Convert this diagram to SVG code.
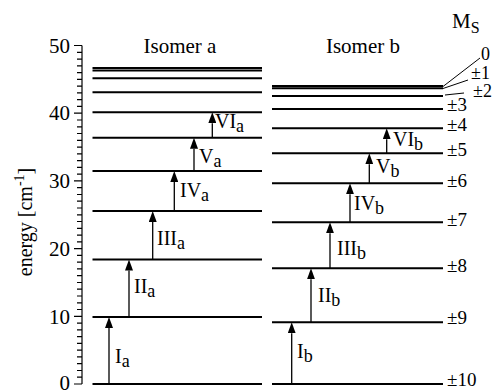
<svg xmlns="http://www.w3.org/2000/svg" width="499" height="392" viewBox="0 0 499 392" font-family="Liberation Serif, Times New Roman, serif">
<defs>
<marker id="ah" markerUnits="userSpaceOnUse" viewBox="0 0 11 8" refX="0" refY="4" markerWidth="11" markerHeight="8" orient="auto">
<path d="M0,0 L11,4 L0,8 z" fill="#000"/>
</marker>
</defs>
<g id="axis">
<g stroke="#000" stroke-width="1.2" fill="none">
<line x1="82" y1="45.5" x2="82" y2="384"/>
<path d="M74,384H82M74,316.3H82M74,248.6H82M74,180.9H82M74,113.2H82M74,45.5H82"/>
<path d="M77,377.2H82M77,370.5H82M77,363.7H82M77,356.9H82M77,350.2H82M77,343.4H82M77,336.6H82M77,329.8H82M77,323.1H82
M77,309.5H82M77,302.8H82M77,296H82M77,289.2H82M77,282.5H82M77,275.7H82M77,268.9H82M77,262.2H82M77,255.4H82
M77,241.8H82M77,235.1H82M77,228.3H82M77,221.5H82M77,214.8H82M77,208H82M77,201.2H82M77,194.5H82M77,187.7H82
M77,174.1H82M77,167.4H82M77,160.6H82M77,153.8H82M77,147.1H82M77,140.3H82M77,133.5H82M77,126.8H82M77,120H82
M77,106.4H82M77,99.7H82M77,92.9H82M77,86.1H82M77,79.4H82M77,72.6H82M77,65.8H82M77,59.1H82M77,52.3H82"/>
</g>
<text font-family="Times New Roman" font-size="21" x="70" y="390" text-anchor="end">0</text>
<text font-family="Times New Roman" font-size="21" x="70" y="323.5" text-anchor="end">10</text>
<text font-family="Times New Roman" font-size="21" x="70" y="255.8" text-anchor="end">20</text>
<text font-family="Times New Roman" font-size="21" x="70" y="188.1" text-anchor="end">30</text>
<text font-family="Times New Roman" font-size="21" x="70" y="120.4" text-anchor="end">40</text>
<text font-family="Times New Roman" font-size="21" x="70" y="52.7" text-anchor="end">50</text>
<text font-family="Times New Roman" font-size="20" transform="translate(32,222) rotate(-90)" text-anchor="middle">energy [cm<tspan font-size="14" dy="-8">-1</tspan><tspan dy="8">]</tspan></text>
</g>
<g id="isomer-a">
<text font-family="Times New Roman" font-size="21" x="180" y="53" text-anchor="middle">Isomer a</text>
<path stroke="#000" stroke-width="2" fill="none" d="M92.5,384H262M92.5,317H262M92.5,259.5H262M92.5,211H262M92.5,171H262M92.5,137.7H262M92.5,112.2H262M92.5,92.3H262M92.5,78.3H262M92.5,70.6H262M92.5,68H262"/>
</g>
<g id="isomer-b">
<text font-family="Times New Roman" font-size="21" x="363" y="53" text-anchor="middle">Isomer b</text>
<path stroke="#000" stroke-width="2" fill="none" d="M272,384H443M272,322.3H443M272,268.3H443M272,222.3H443M272,183.3H443M272,153.3H443M272,128.3H443M272,109H443M272,96H443M272,88.2H443M272,86H443"/>
</g>
<g id="ms-labels">
<text font-family="Times New Roman" font-size="21" x="452" y="28">M<tspan font-size="16" dy="5">S</tspan></text>
<text font-family="Times New Roman" font-size="18" x="481" y="60">0</text>
<text font-family="Times New Roman" font-size="18" x="471" y="79">±1</text>
<text font-family="Times New Roman" font-size="18" x="473" y="96.5">±2</text>
<text font-family="Times New Roman" font-size="19" x="447" y="110.5">±3</text>
<text font-family="Times New Roman" font-size="19" x="447" y="130.5">±4</text>
<text font-family="Times New Roman" font-size="19" x="447" y="155.5">±5</text>
<text font-family="Times New Roman" font-size="19" x="447" y="187">±6</text>
<text font-family="Times New Roman" font-size="19" x="447" y="225.5">±7</text>
<text font-family="Times New Roman" font-size="19" x="447" y="272">±8</text>
<text font-family="Times New Roman" font-size="19" x="447" y="323.5">±9</text>
<text font-family="Times New Roman" font-size="19" x="447" y="386">±10</text>
</g>
<g id="connectors" stroke="#000" fill="none">
<g stroke-width="1.3" marker-end="url(#ah)">
<line x1="109" y1="384" x2="109" y2="328"/>
<line x1="129" y1="317" x2="129" y2="270.5"/>
<line x1="152.7" y1="259.5" x2="152.7" y2="222"/>
<line x1="174.3" y1="211" x2="174.3" y2="182"/>
<line x1="194" y1="171" x2="194" y2="148.7"/>
<line x1="212.3" y1="137.7" x2="212.3" y2="123.2"/>
<line x1="291.7" y1="384" x2="291.7" y2="333.3"/>
<line x1="311" y1="322.3" x2="311" y2="279.3"/>
<line x1="330" y1="268.3" x2="330" y2="233.3"/>
<line x1="350" y1="222.3" x2="350" y2="194.3"/>
<line x1="369.3" y1="183.3" x2="369.3" y2="164.3"/>
<line x1="386.7" y1="153.3" x2="386.7" y2="139.3"/>
</g>
<path stroke-width="1" d="M443,86.5L480,58M443,88.5L468,80M445,95L464,93"/>
</g>
<g id="transition-labels">
<text font-family="Times New Roman" font-size="20" x="115" y="363">I<tspan font-size="18" dy="4">a</tspan></text>
<text font-family="Times New Roman" font-size="20" x="134" y="293">II<tspan font-size="18" dy="4">a</tspan></text>
<text font-family="Times New Roman" font-size="20" x="157" y="245">III<tspan font-size="18" dy="4">a</tspan></text>
<text font-family="Times New Roman" font-size="20" x="180" y="197">IV<tspan font-size="18" dy="4">a</tspan></text>
<text font-family="Times New Roman" font-size="20" x="199" y="163">V<tspan font-size="18" dy="4">a</tspan></text>
<text font-family="Times New Roman" font-size="20" x="215" y="128">VI<tspan font-size="18" dy="4">a</tspan></text>
<text font-family="Times New Roman" font-size="20" x="297" y="358">I<tspan font-size="18" dy="4">b</tspan></text>
<text font-family="Times New Roman" font-size="20" x="318" y="302">II<tspan font-size="18" dy="4">b</tspan></text>
<text font-family="Times New Roman" font-size="20" x="337" y="255">III<tspan font-size="18" dy="4">b</tspan></text>
<text font-family="Times New Roman" font-size="20" x="354" y="210">IV<tspan font-size="18" dy="4">b</tspan></text>
<text font-family="Times New Roman" font-size="20" x="376" y="173">V<tspan font-size="18" dy="4">b</tspan></text>
<text font-family="Times New Roman" font-size="20" x="393" y="146">VI<tspan font-size="18" dy="4">b</tspan></text>
</g>
</svg>
